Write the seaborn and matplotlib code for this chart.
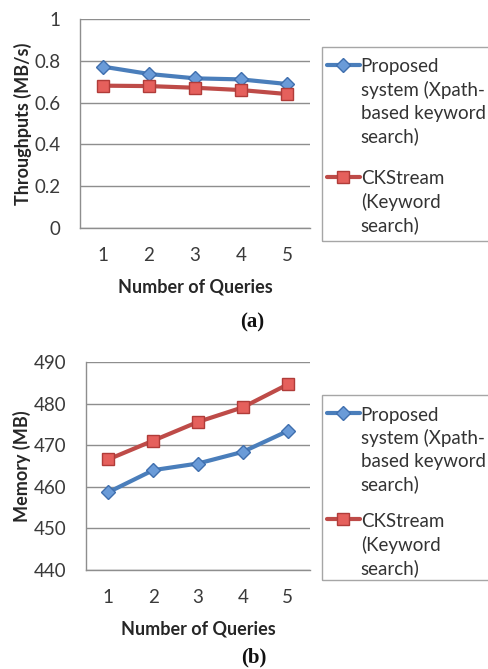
import matplotlib
matplotlib.use("Agg")
import matplotlib.pyplot as plt
from matplotlib.patches import Rectangle
import pandas as pd
import seaborn as sns

# ---- data -------------------------------------------------------------
queries = [1, 2, 3, 4, 5]
series_names = [
    "Proposed\nsystem (Xpath-\nbased keyword\nsearch)",
    "CKStream\n(Keyword\nsearch)",
]
throughput_proposed = [0.772, 0.737, 0.716, 0.711, 0.689]
throughput_ckstream = [0.681, 0.679, 0.671, 0.660, 0.641]
memory_proposed = [458.7, 464.0, 465.6, 468.4, 473.4]
memory_ckstream = [466.6, 471.1, 475.6, 479.1, 484.6]
throughput_ticks = [0, 0.2, 0.4, 0.6, 0.8, 1.0]
throughput_ticklabels = ["0", "0.2", "0.4", "0.6", "0.8", "1"]
memory_ticks = [440, 450, 460, 470, 480, 490]
memory_ticklabels = ["440", "450", "460", "470", "480", "490"]

# ---- style ------------------------------------------------------------
sns.set_theme(style="white")
plt.rcParams["font.family"] = ["Lato", "DejaVu Sans"]

W, H = 488, 669
BLUE_LINE, BLUE_FILL, BLUE_EDGE = "#4A7EBB", "#6A9BD8", "#3F6FAE"
RED_LINE, RED_FILL, RED_EDGE = "#BE4B48", "#E5605C", "#B03C39"
GRID = "#8E8E8E"
TEXT = "#3A3A3A"

fig = plt.figure(figsize=(W / 100, H / 100), dpi=100)
fig.patch.set_facecolor("white")


def px_rect(left, top, right, bottom):
    return [left / W, 1 - bottom / H, (right - left) / W, (bottom - top) / H]


def draw_panel(ax, proposed, ckstream, ylim, yticks, yticklabels, ylabel):
    df = pd.DataFrame({
        "Number of Queries": queries * 2,
        "value": proposed + ckstream,
        "series": [series_names[0]] * len(queries) + [series_names[1]] * len(queries),
    })
    sns.lineplot(data=df, x="Number of Queries", y="value", hue="series",
                 style="series", markers=["D", "s"], dashes=False,
                 palette=[BLUE_LINE, RED_LINE], linewidth=3.0,
                 legend=False, ax=ax)
    lines = ax.get_lines()
    lines[0].set_markersize(7)
    lines[0].set_markerfacecolor(BLUE_FILL)
    lines[0].set_markeredgecolor(BLUE_EDGE)
    lines[0].set_markeredgewidth(1.0)
    lines[1].set_markersize(9)
    lines[1].set_markerfacecolor(RED_FILL)
    lines[1].set_markeredgecolor(RED_EDGE)
    lines[1].set_markeredgewidth(1.0)
    for ln in lines:
        ln.set_clip_on(False)

    ax.set_xlim(0.5, 5.5)
    ax.set_ylim(*ylim)
    ax.set_xticks(queries)
    ax.set_xticks([q - 0.5 for q in queries] + [5.5], minor=True)
    ax.set_yticks(yticks)
    ax.set_yticklabels(yticklabels)
    ax.tick_params(axis="x", which="major", length=0, pad=14,
                   labelsize=13.5, labelcolor=TEXT)
    ax.tick_params(axis="x", which="minor", length=5, width=1,
                   color=GRID, direction="out")
    ax.tick_params(axis="y", which="major", length=5, width=1, pad=9,
                   color=GRID, direction="out", labelsize=13.5, labelcolor=TEXT)
    ax.yaxis.grid(True, color=GRID, linewidth=1)
    ax.set_axisbelow(True)
    for side in ("top", "right"):
        ax.spines[side].set_visible(False)
    for side in ("left", "bottom"):
        ax.spines[side].set_color(GRID)
        ax.spines[side].set_linewidth(1)
    ax.set_xlabel("Number of Queries", fontsize=13, fontweight="bold",
                  color="#262626", labelpad=10)
    ax.set_ylabel(ylabel, fontsize=13, fontweight="bold", color="#262626",
                  labelpad=2)
    return lines


def draw_legend(handles, frame_top, frame_bottom, handle_y,
                linespacing=1.39, labelspacing=1.3):
    fig.patches.append(Rectangle((322 / W, 1 - frame_bottom / H),
                                 (W + 10 - 322) / W,
                                 (frame_bottom - frame_top) / H,
                                 transform=fig.transFigure, fill=False,
                                 edgecolor="#A6A6A6", linewidth=1))
    leg = fig.legend(handles, series_names, loc="upper left",
                     bbox_to_anchor=(327 / W, 1 - (handle_y - 5.5) / H),
                     frameon=False, fontsize=13.5, handlelength=1.75,
                     handletextpad=0.05, labelspacing=labelspacing,
                     borderpad=0, borderaxespad=0, numpoints=1)
    for t in leg.get_texts():
        t.set_linespacing(linespacing)
        t.set_color("#333333")
    for col in leg._legend_handle_box.get_children():
        for item in col.get_children():
            item.align = "top"
    return leg


# ---- panel (a): throughput --------------------------------------------
ax1 = fig.add_axes(px_rect(80, 19, 310, 228))
h1 = draw_panel(ax1, throughput_proposed, throughput_ckstream, (0, 1),
                throughput_ticks, throughput_ticklabels, "Throughputs (MB/s)")
draw_legend(h1, 47, 241, 64)
fig.text(252 / W, 1 - 322 / H, "(a)", ha="center", va="center",
         fontsize=15, fontweight="bold", family="Liberation Serif",
         color="#111111")

# ---- panel (b): memory ------------------------------------------------
ax2 = fig.add_axes(px_rect(86, 362, 310, 570))
h2 = draw_panel(ax2, memory_proposed, memory_ckstream, (440, 490),
                memory_ticks, memory_ticklabels, "Memory (MB)")
draw_legend(h2, 395, 580, 412, linespacing=1.38, labelspacing=1.05)
fig.text(254 / W, 1 - 657 / H, "(b)", ha="center", va="center",
         fontsize=15, fontweight="bold", family="Liberation Serif",
         color="#111111")

fig.savefig("out.png", dpi=100, facecolor="white")
